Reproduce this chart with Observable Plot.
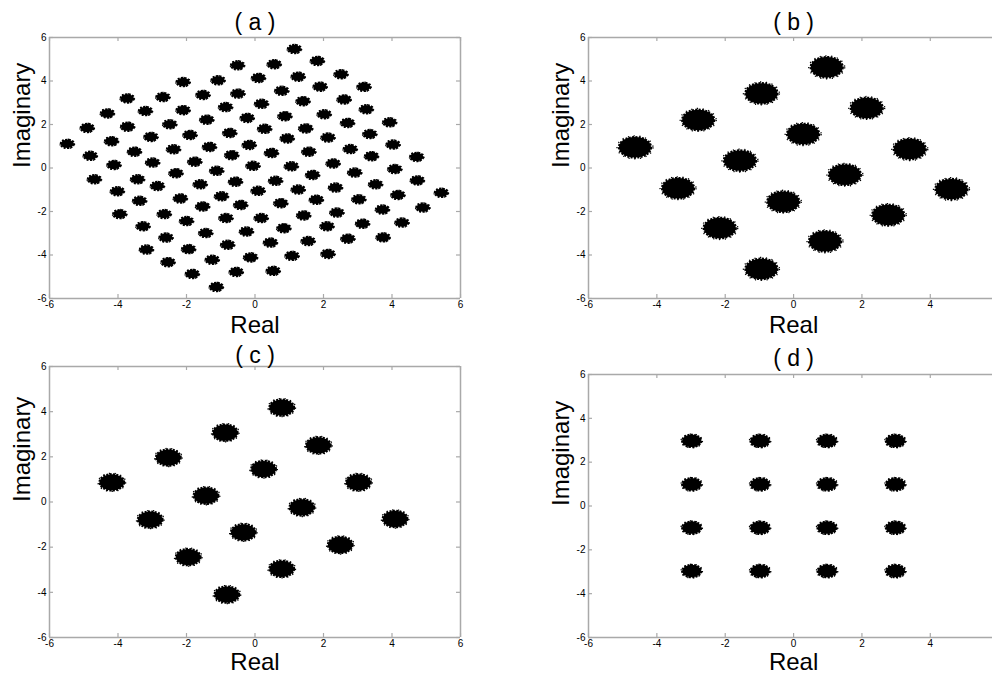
<!DOCTYPE html>
<html>
<head>
<meta charset="utf-8">
<script src="https://cdn.jsdelivr.net/npm/d3@7"></script>
<script src="https://cdn.jsdelivr.net/npm/@observablehq/plot@0.6"></script>
<style>
  html, body { margin: 0; padding: 0; background: #fff; }
  body { width: 992px; height: 675px; overflow: hidden; position: relative; font-family: "Liberation Sans", Arial, sans-serif; }
  .panel { position: absolute; }
  .panel svg { max-width: none !important; overflow: visible; }
</style>
</head>
<body>
<div id="pa" class="panel"></div>
<div id="pb" class="panel"></div>
<div id="pc" class="panel"></div>
<div id="pd" class="panel"></div>
<script>
// ---------- data ----------
const titles = ["( a )", "( b )", "( c )", "( d )"];
const xLabel = "Real";
const yLabel = "Imaginary";
const xTicksFull = [-6, -4, -2, 0, 2, 4, 6];
const xTicksCut = [-6, -4, -2, 0, 2, 4];
const yTicks = [-6, -4, -2, 0, 2, 4, 6];

// panel (a): cluster centres
const aRe = [1.15,-0.51,0.56,1.82,-2.10,-1.08,0.10,1.26,1.90,2.51,3.18,-3.73,-2.69,-1.52,-0.50,0.78,1.40,2.60,
  -4.31,-3.20,-2.10,-0.86,0.19,0.87,2.02,3.25,-4.90,-3.72,-2.49,-1.41,-0.23,0.28,1.48,2.70,3.93,
  -5.48,-4.19,-3.04,-1.90,-0.74,-1.33,-0.17,0.94,0.48,1.57,2.13,2.78,3.35,4.03,
  -4.81,-3.52,-2.38,-0.68,-2.99,-1.76,-4.12,3.40,4.72,-1.12,-0.06,1.06,2.28,4.08,
  -4.69,-3.43,-2.31,-2.85,-1.60,-0.57,0.60,1.68,2.91,3.52,4.74,
  -4.02,-2.18,-0.98,0.09,1.26,2.35,3.03,4.17,5.44,
  -3.37,-1.53,-0.42,0.75,1.79,2.39,3.72,4.90,
  -3.95,-2.65,-2.00,-0.85,0.18,1.42,2.10,3.14,4.29,
  -3.27,-2.60,-1.44,-0.25,0.84,2.71,3.74,
  -3.17,-1.94,-0.80,0.45,1.55,-2.54,-1.25,-0.13,1.08,2.13,-1.83,-0.55,0.53,-1.13];
const aIm = [5.47,4.72,4.77,4.92,3.95,4.03,4.14,4.20,3.74,4.31,3.73,3.20,3.26,3.36,3.42,3.55,3.07,3.15,
  2.51,2.62,2.66,2.80,2.95,2.38,2.47,2.70,1.84,1.90,2.01,2.22,2.30,1.80,1.82,2.07,2.10,
  1.11,1.23,1.43,1.52,1.61,0.97,1.06,1.36,0.69,0.75,1.40,0.87,1.56,1.08,
  0.56,0.75,0.86,0.59,0.25,0.29,0.14,0.54,0.51,-0.13,0.10,0.08,0.21,-0.05,
  -0.52,-0.52,-0.24,-0.83,-0.75,-0.63,-0.59,-0.32,-0.21,-0.75,-0.57,
  -1.07,-1.40,-1.30,-1.05,-0.99,-0.90,-1.44,-1.24,-1.14,
  -1.51,-1.77,-1.70,-1.62,-1.46,-2.05,-1.91,-1.82,
  -2.12,-2.12,-2.44,-2.30,-2.30,-2.18,-2.68,-2.56,-2.51,
  -2.68,-3.20,-2.99,-2.92,-2.77,-3.25,-3.19,
  -3.75,-3.73,-3.53,-3.43,-3.36,-4.33,-4.22,-4.11,-4.04,-3.95,-4.87,-4.78,-4.73,-5.47];

// panel (b)
const bRe = [0.97,-0.94,2.14,-2.79,0.28,3.40,-4.64,-1.57,1.50,4.62,-3.38,-0.30,2.77,-2.16,0.92,-0.94];
const bIm = [4.63,3.43,2.76,2.21,1.56,0.87,0.95,0.34,-0.31,-0.97,-0.93,-1.55,-2.16,-2.76,-3.37,-4.64];

// panel (c)
const cRe = [0.78,-0.87,1.85,-2.53,0.25,3.02,-4.18,-1.43,1.37,4.09,-3.06,-0.34,2.49,-1.95,0.78,-0.82];
const cIm = [4.18,3.07,2.51,1.97,1.46,0.87,0.87,0.28,-0.24,-0.75,-0.78,-1.34,-1.90,-2.44,-2.96,-4.10];

// panel (d)
const dRe = [-2.98,-0.98,0.98,2.98,-2.98,-0.98,0.98,2.98,-2.98,-0.98,0.98,2.98,-2.98,-0.98,0.98,2.98];
const dIm = [2.97,2.97,2.97,2.97,0.99,0.99,0.99,0.99,-0.99,-0.99,-0.99,-0.99,-2.97,-2.97,-2.97,-2.97];

// ---------- drawing ----------
function ellipseSymbol(rx, ry) {
  const k = 0.5523;
  return {
    draw(ctx) {
      ctx.moveTo(rx, 0);
      ctx.bezierCurveTo(rx, ry * k, rx * k, ry, 0, ry);
      ctx.bezierCurveTo(-rx * k, ry, -rx, ry * k, -rx, 0);
      ctx.bezierCurveTo(-rx, -ry * k, -rx * k, -ry, 0, -ry);
      ctx.bezierCurveTo(rx * k, -ry, rx, -ry * k, rx, 0);
      ctx.closePath();
    }
  };
}

const frameColor = "#a9a9a9";

function panel(cfg) {
  const pts = cfg.re.map((r, i) => ({re: r, im: cfg.im[i]}));
  const xDomain = cfg.xDomain, yDomain = [-6, 6];
  const pxX = cfg.w / (xDomain[1] - xDomain[0]);
  const pxY = cfg.h / (yDomain[1] - yDomain[0]);
  const core = ellipseSymbol(cfg.R * pxX, cfg.R * pxY);
  const halo = ellipseSymbol(cfg.R * 1.12 * pxX, cfg.R * 1.12 * pxY);
  const marks = [
    // dense core with a ragged edge
    Plot.dot(pts, {x: "re", y: "im", symbol: core, fill: "#000", stroke: "#000", strokeWidth: 2.2, strokeDasharray: "2,1.3"}),
    // sparse outlying samples
    Plot.dot(pts, {x: "re", y: "im", symbol: halo, fill: "none", stroke: "#000", strokeWidth: 1.3, strokeDasharray: "1.2,4.5"}),
    // frame
    Plot.ruleY(yDomain, {stroke: frameColor, strokeWidth: 1.5}),
    Plot.ruleX([xDomain[0]], {stroke: frameColor, strokeWidth: 1.5}),
    // inward ticks bottom / top
    Plot.ruleX(cfg.xt, {stroke: frameColor, strokeWidth: 1.2, insetTop: cfg.h - 4}),
    Plot.ruleX(cfg.xt, {stroke: frameColor, strokeWidth: 1.2, insetBottom: cfg.h - 4}),
    // inward ticks left
    Plot.ruleY(yTicks, {stroke: frameColor, strokeWidth: 1.2, insetRight: cfg.w - 4}),
    // titles and labels
    Plot.text([cfg.title], {text: d => d, x: () => 0, frameAnchor: "top", lineAnchor: "middle", dy: cfg.titleDy, fontSize: 23, fill: "#000"}),
    Plot.text([xLabel], {text: d => d, x: () => 0, frameAnchor: "bottom", lineAnchor: "middle", dy: cfg.labelDy, fontSize: 24, fill: "#000"}),
    Plot.text([yLabel], {text: d => d, y: () => 0, frameAnchor: "left", lineAnchor: "middle", dx: -27, rotate: -90, fontSize: 24, fill: "#000"})
  ];
  if (cfg.full) {
    marks.push(Plot.ruleX([xDomain[1]], {stroke: frameColor, strokeWidth: 1.5}));
    marks.push(Plot.ruleY(yTicks, {stroke: frameColor, strokeWidth: 1.2, insetLeft: cfg.w - 4}));
  }
  const svg = Plot.plot({
    width: cfg.mL + cfg.w + cfg.mR,
    height: cfg.mT + cfg.h + cfg.mB,
    marginLeft: cfg.mL, marginRight: cfg.mR, marginTop: cfg.mT, marginBottom: cfg.mB,
    style: {background: "transparent", fontFamily: "'Liberation Sans', Arial, sans-serif", fontSize: "10px", color: "#000", overflow: "visible"},
    x: {domain: xDomain, ticks: cfg.xt, tickSize: 0, tickPadding: 2, tickFormat: d => String(d), label: null},
    y: {domain: yDomain, ticks: yTicks, tickSize: 0, tickPadding: 3, tickFormat: d => String(d), label: null},
    marks
  });
  const host = document.getElementById(cfg.id);
  host.style.left = cfg.left + "px";
  host.style.top = cfg.top + "px";
  host.appendChild(svg);
}

panel({id: "pa", title: titles[0], re: aRe, im: aIm, left: 0, top: 0, mL: 49, mT: 37, w: 411, h: 261, mR: 12, mB: 40,
  xDomain: [-6, 6], xt: xTicksFull, full: true, R: 0.19, titleDy: -15, labelDy: 27});
panel({id: "pb", title: titles[1], re: bRe, im: bIm, left: 528, top: 0, mL: 60, mT: 37, w: 404, h: 261, mR: 0, mB: 40,
  xDomain: [-6, 5.82], xt: xTicksCut, full: false, R: 0.47, titleDy: -15, labelDy: 27});
panel({id: "pc", title: titles[2], re: cRe, im: cIm, left: 0, top: 329, mL: 49, mT: 37, w: 411, h: 271, mR: 12, mB: 46,
  xDomain: [-6, 6], xt: xTicksFull, full: true, R: 0.36, titleDy: -11, labelDy: 25});
panel({id: "pd", title: titles[3], re: dRe, im: dIm, left: 528, top: 329, mL: 60, mT: 45, w: 404, h: 263, mR: 0, mB: 46,
  xDomain: [-6, 5.82], xt: xTicksCut, full: false, R: 0.28, titleDy: -16, labelDy: 25});
</script>
</body>
</html>
